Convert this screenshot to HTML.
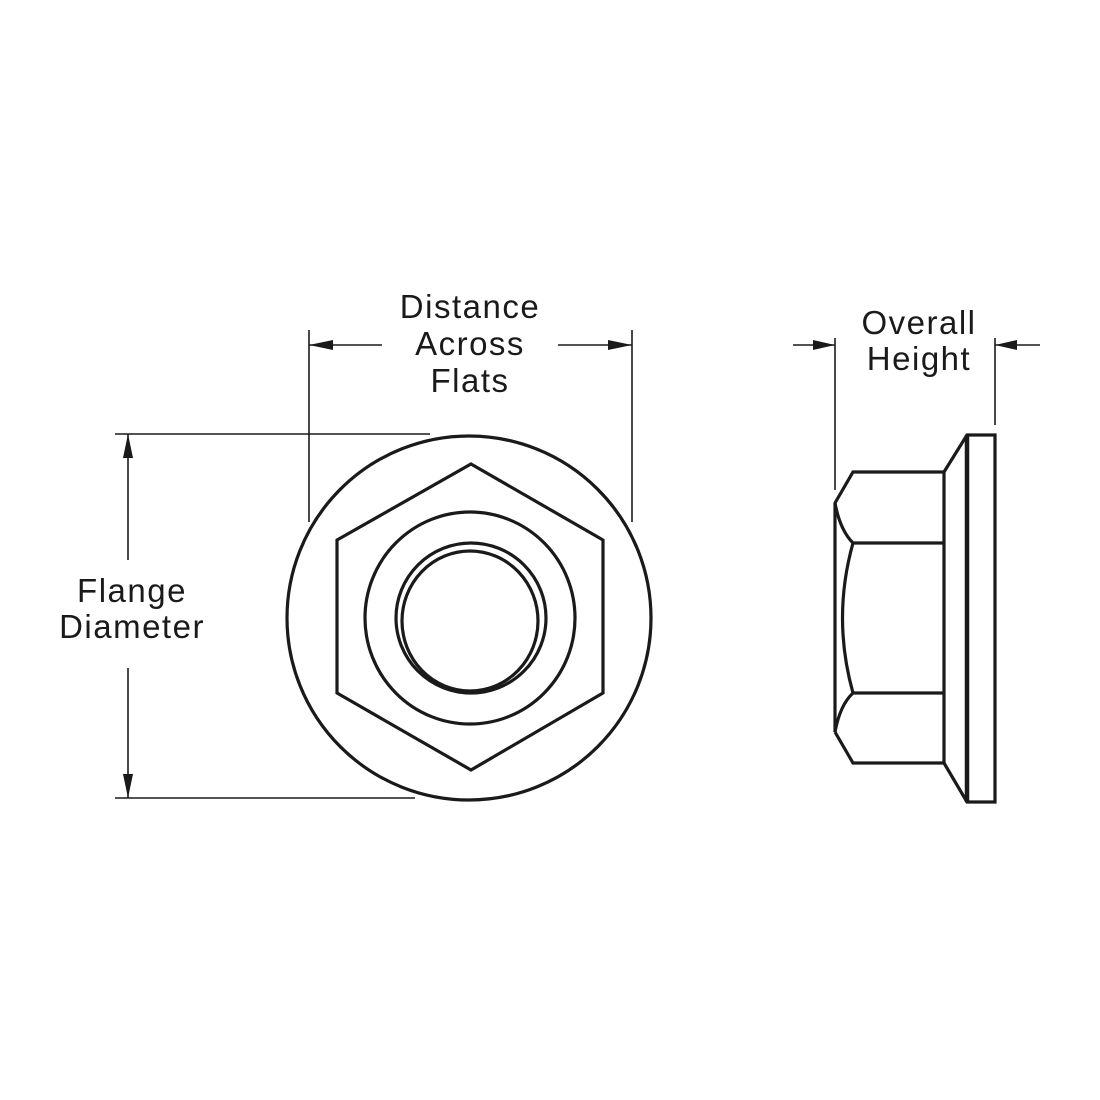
<!DOCTYPE html>
<html><head><meta charset="utf-8"><style>
html,body{margin:0;padding:0;background:#fff;}
svg{display:block;}
text{font-family:"Liberation Sans",Arial,sans-serif;font-size:33px;letter-spacing:1.5px;fill:#1a1a1a;}
</style></head><body>
<svg width="1100" height="1100" viewBox="0 0 1100 1100" xmlns="http://www.w3.org/2000/svg">
<rect width="1100" height="1100" fill="#fff"/>
<g fill="none" stroke="#1a1a1a" stroke-width="1.6">
<line x1="309" y1="330" x2="309" y2="522"/>
<line x1="632" y1="330" x2="632" y2="522"/>
<line x1="309" y1="345" x2="382" y2="345"/>
<line x1="558" y1="345" x2="632" y2="345"/>
<line x1="115" y1="434" x2="430" y2="434"/>
<line x1="115" y1="798" x2="415" y2="798"/>
<line x1="128" y1="434" x2="128" y2="560"/>
<line x1="128" y1="668" x2="128" y2="798"/>
<line x1="835" y1="338" x2="835" y2="490"/>
<line x1="995" y1="338" x2="995" y2="425"/>
<line x1="793" y1="345" x2="835" y2="345"/>
<line x1="995" y1="345" x2="1040" y2="345"/>
</g>
<g fill="#1a1a1a">
<polygon points="309,345 333,340 333,350"/>
<polygon points="632,345 608,340 608,350"/>
<polygon points="128,434 123,458 133,458"/>
<polygon points="128,798 123,774 133,774"/>
<polygon points="835,345 813,340 813,350"/>
<polygon points="995,345 1017,340 1017,350"/>
</g>
<g fill="none" stroke="#1a1a1a" stroke-width="3.2" stroke-linejoin="miter">
<circle cx="469" cy="618" r="182"/>
<polygon points="471,464 603,540 603,693 471,770 337,693 337,540"/>
<ellipse cx="470" cy="618" rx="105" ry="106"/>
<circle cx="471" cy="618" r="75"/>
<ellipse cx="470" cy="621" rx="68" ry="70"/>
<polyline points="835,732 835,503 853,472 944,472 944,763 853,763 835,732"/>
<line x1="853" y1="543" x2="944" y2="543"/>
<line x1="853" y1="693" x2="944" y2="693"/>
<path d="M835,503 Q840,530 853,543"/>
<path d="M835,732 Q840,705 853,693"/>
<path d="M853,543 Q832,618 853,693"/>
<polyline points="944,472 967,435 995,435 995,802 967,802 944,763"/>
<line x1="967" y1="435" x2="967" y2="802" stroke-width="4.5"/>
</g>
<g text-anchor="middle">
<text x="470" y="318">Distance</text>
<text x="470" y="355">Across</text>
<text x="470" y="392">Flats</text>
<text x="919" y="334">Overall</text>
<text x="919" y="370">Height</text>
<text x="132" y="602">Flange</text>
<text x="132" y="638">Diameter</text>
</g>
</svg>
</body></html>
